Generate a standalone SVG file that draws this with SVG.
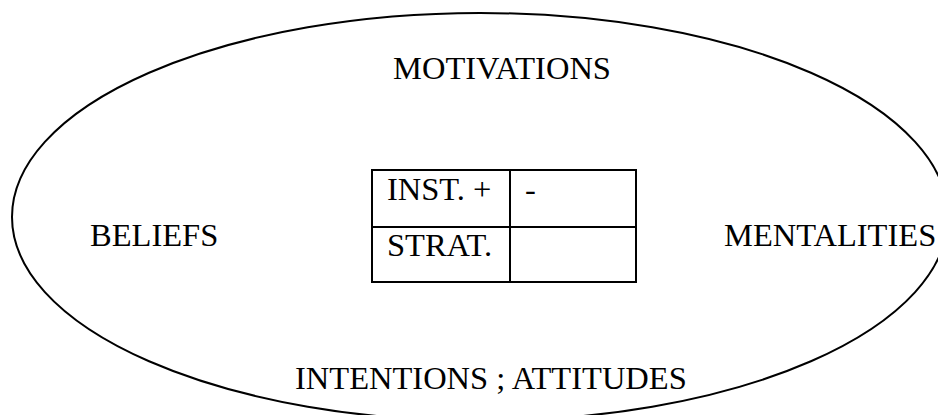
<svg xmlns="http://www.w3.org/2000/svg" width="938" height="415" viewBox="0 0 938 415">
<style>
.ln{fill:none;stroke:#000;stroke-width:2}
.t{font-family:"Liberation Serif","Times New Roman",serif;font-size:32.5px;fill:#000}
</style>
<rect width="938" height="415" fill="#fff"/>
<g id="ellipse"><ellipse class="ln" cx="480" cy="217" rx="468" ry="204"/></g>
<g id="motivations"><text class="t" x="502" y="79" text-anchor="middle">MOTIVATIONS</text></g>
<g id="beliefs"><text class="t" x="90" y="246">BELIEFS</text></g>
<g id="mentalities"><text class="t" x="724" y="246">MENTALITIES</text></g>
<g id="intentions"><text class="t" x="295" y="389">INTENTIONS ; ATTITUDES</text></g>
<g id="table">
<rect class="ln" x="372" y="170" width="264" height="112"/>
<line class="ln" x1="510" y1="170" x2="510" y2="282"/>
<line class="ln" x1="372" y1="227" x2="636" y2="227"/>
<text class="t" x="387" y="200">INST. +</text>
<text class="t" x="525" y="200">-</text>
<text class="t" x="387" y="256">STRAT.</text>
</g>
<g id="connectors"></g>
</svg>
